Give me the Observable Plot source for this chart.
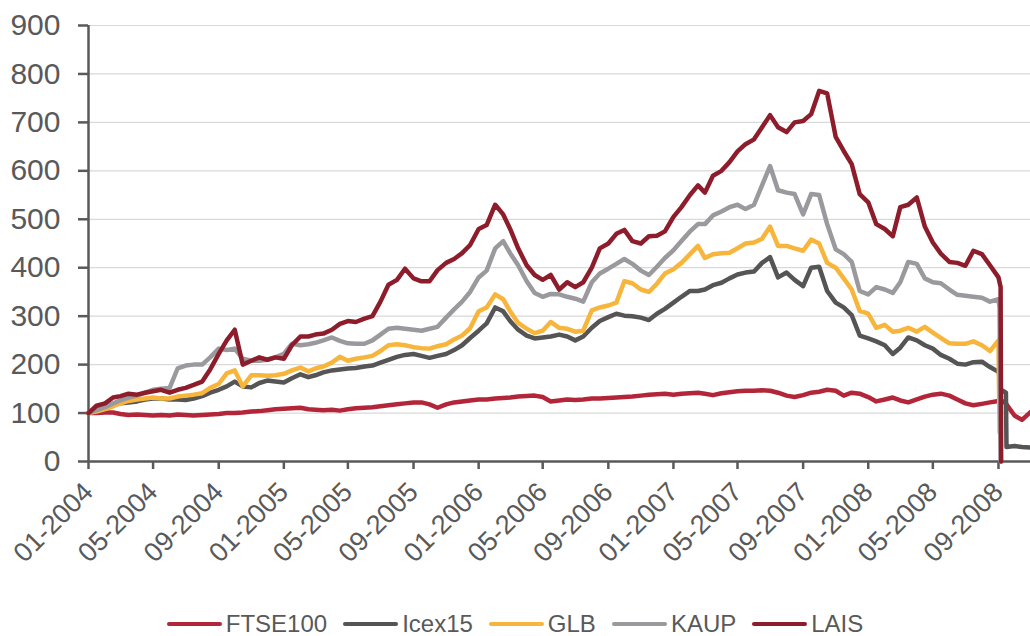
<!DOCTYPE html>
<html><head><meta charset="utf-8">
<script src="https://cdn.jsdelivr.net/npm/d3@7"></script>
<script src="https://cdn.jsdelivr.net/npm/@observablehq/plot@0.6"></script>
<style>
body{margin:0;background:#fff;font-family:"Liberation Sans",Arial,sans-serif;}
#legend{display:flex;justify-content:center;align-items:center;height:38px;color:#595959;font-size:24px;width:1030px;}
.item{display:flex;align-items:center;margin:0 8px;}
.sw{width:55px;height:4.5px;border-radius:2px;margin-right:4px;}
</style></head><body><div id="chart"></div><div id="legend"></div>
<script>
const seriesNames = ["FTSE100", "Icex15", "GLB", "KAUP", "LAIS"];
const seriesColors = ["#B3263A", "#555555", "#F7B53C", "#9A9A9E", "#8E1D2C"];
const yTicks = [0, 100, 200, 300, 400, 500, 600, 700, 800, 900];
const xTicks = ["2004-01-01","2004-05-01","2004-09-01","2005-01-01","2005-05-01","2005-09-01","2006-01-01","2006-05-01","2006-09-01","2007-01-01","2007-05-01","2007-09-01","2008-01-01","2008-05-01","2008-09-01"];
const xDomain = ["2004-01-01", "2008-10-31"];

// semi-monthly sample dates (1st and 16th), Jan 2004 - Aug 2008, then 1 Sep 2008
const gridDates = d3.utcMonth.range(new Date("2004-01-01"), new Date("2008-09-01"))
  .flatMap(d => [d, d3.utcDay.offset(d, 15)]).concat([new Date("2008-09-01")]);
const tailDates = ["2008-09-03","2008-09-05","2008-09-06","2008-09-09","2008-09-15","2008-09-16","2008-10-01","2008-10-15","2008-10-31"];

const FTSE100 = [100,100,101,101,98,96,97,96,95,96,
95,97,96,95,96,97,98,100,100,101,
103,104,106,108,109,110,111,108,107,106,
107,105,108,110,111,112,114,116,118,120,
122,122,118,111,118,122,124,126,128,128,
130,131,132,134,135,136,133,124,126,128,
127,128,130,130,131,132,133,134,136,138,
139,140,138,140,141,142,140,137,141,143,
145,146,146,147,146,142,136,133,137,142,
144,148,146,136,142,140,133,124,128,132,
126,122,128,134,138,140,136,128,120,116,
119,122,125,
126,126,125,124,120,118,95,86,102];

const Icex15 = [100,108,112,118,120,122,124,128,130,130,
128,128,127,130,135,142,148,155,165,155,
153,162,167,165,163,172,180,174,178,184,
188,190,192,193,196,198,204,210,216,220,
222,218,214,218,222,230,240,255,270,285,
318,310,290,272,260,254,256,258,262,258,
250,258,276,290,298,305,301,300,297,292,
305,315,328,340,352,352,355,364,369,378,
386,390,392,410,422,380,390,375,362,400,
402,352,328,318,302,260,254,248,240,222,
235,256,250,240,233,220,212,202,200,205,
206,195,185,
175,155,148,146,142,30,32,30,29];

const GLB = [100,103,108,114,120,125,128,130,132,130,
130,134,136,138,141,152,160,182,188,155,
178,178,177,178,181,188,194,186,192,196,
204,216,208,212,215,218,228,240,242,240,
236,234,233,238,242,252,260,275,310,318,
345,335,310,286,274,265,270,288,276,274,
268,270,312,318,322,328,372,368,355,350,
367,388,397,410,428,445,420,428,430,431,
440,450,452,460,485,445,445,440,435,458,
450,410,400,378,355,311,305,276,282,268,
270,276,268,278,266,255,244,243,243,248,
240,228,250,
60,null,null,null,null,null,null,null,null];

const KAUP = [100,106,112,120,126,132,136,142,148,150,
152,192,198,200,200,215,233,230,233,212,
208,208,210,215,222,243,240,242,245,250,
256,249,244,243,243,250,262,274,276,274,
272,270,274,278,297,314,330,350,380,394,
440,455,430,405,372,348,340,346,345,340,
336,330,370,388,398,408,418,408,394,385,
402,420,436,455,475,490,490,508,516,525,
530,521,530,570,610,560,555,552,510,552,
550,490,438,428,412,352,345,360,355,348,
370,412,408,378,370,368,355,344,342,340,
338,330,335,
318,0,null,null,null,null,null,null,null];

const LAIS = [100,115,120,132,135,140,138,142,145,148,
142,148,152,158,165,190,222,250,272,200,
208,215,210,215,212,240,258,258,262,264,
272,284,290,288,295,300,330,365,375,398,
378,372,372,395,410,418,430,447,480,488,
530,510,480,440,405,385,375,385,355,370,
360,370,400,440,450,470,478,455,450,465,
466,475,505,525,550,570,555,590,600,618,
640,655,665,690,715,690,680,700,703,717,
765,760,670,641,614,552,535,490,480,465,
525,530,545,485,452,429,412,410,404,435,
428,405,380,
370,360,0,null,null,null,null,null,null];

const allDates = gridDates.concat(tailDates.map(s => new Date(s)));
const seriesValues = [FTSE100, Icex15, GLB, KAUP, LAIS];
const tables = seriesValues.map((vals, s) =>
  allDates.map((d, i) => ({date: d, value: vals[i], series: seriesNames[s]})).filter(r => r.value != null));

const axisColor = "#595959";
const chart = Plot.plot({
  width: 1030, height: 605,
  marginLeft: 88, marginRight: 0, marginTop: 25, marginBottom: 144,
  style: {fontFamily: "'Liberation Sans', Arial, sans-serif", color: axisColor, background: "#fff"},
  x: {type: "utc", domain: xDomain.map(s => new Date(s))},
  y: {domain: [0, 900]},
  marks: [
    Plot.gridY(yTicks.slice(1), {stroke: "#d9d9d9", strokeOpacity: 1, strokeWidth: 1.2}),
    Plot.ruleY([0], {stroke: axisColor, strokeWidth: 2.5}),
    Plot.ruleX([new Date(xDomain[0])], {stroke: axisColor, strokeWidth: 2.5}),
    Plot.axisY(yTicks, {tickSize: 10, tickPadding: 18, fontSize: 30, stroke: axisColor, strokeWidth: 2.5, label: null}),
    Plot.axisX(xTicks.map(s => new Date(s)), {tickSize: 8, tickPadding: 18, tickRotate: -45, fontSize: 27,
      tickFormat: d3.utcFormat("%m-%Y"), stroke: axisColor, strokeWidth: 2.5, label: null}),
    ...tables.map((t, s) => Plot.lineY(t, {x: "date", y: "value", stroke: seriesColors[s], strokeWidth: 4.5, strokeLinejoin: "round"}))
  ]
});
document.getElementById("chart").append(chart);

const legend = document.getElementById("legend");
seriesNames.forEach((n, i) => {
  const it = document.createElement("div"); it.className = "item";
  const sw = document.createElement("div"); sw.className = "sw"; sw.style.background = seriesColors[i];
  const tx = document.createElement("span"); tx.textContent = n;
  it.append(sw, tx); legend.append(it);
});
</script></body></html>
